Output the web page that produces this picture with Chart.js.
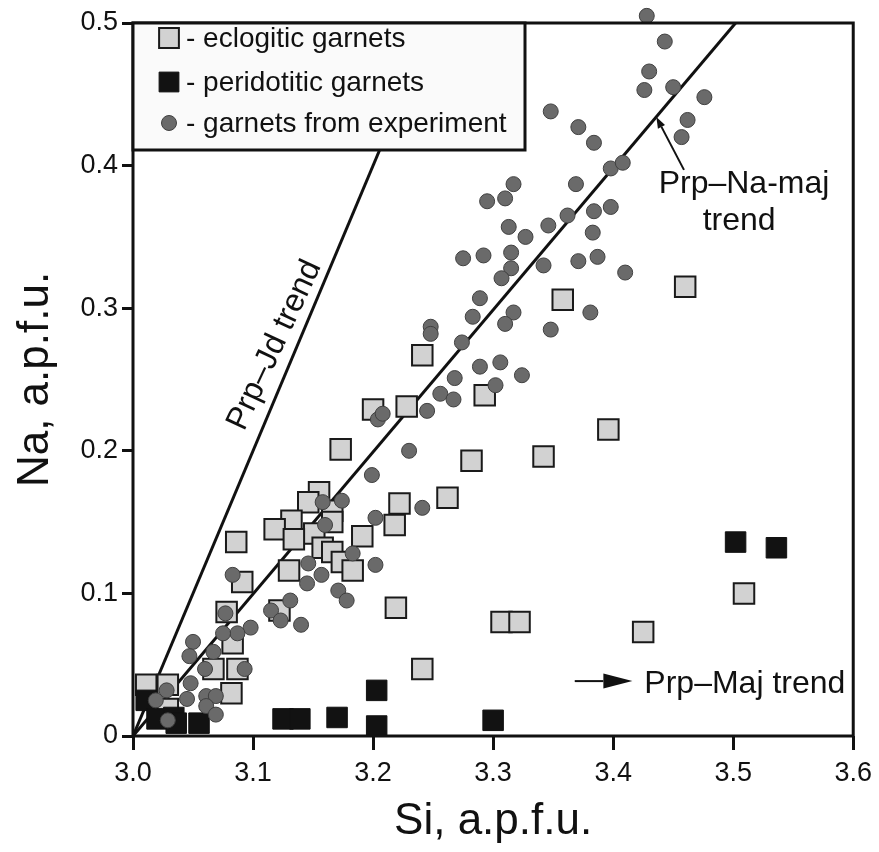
<!DOCTYPE html>
<html>
<head>
<meta charset="utf-8">
<script src="https://cdn.jsdelivr.net/npm/chart.js@4.4.0/dist/chart.umd.min.js"></script>
<style>
  body { margin: 0; background: #fff; }
  #wrap { width: 879px; height: 852px; }
</style>
</head>
<body>
<div id="wrap"><canvas id="myChart" width="879" height="852"></canvas></div>
<script>
var FONT = '"Liberation Sans", Arial, Helvetica, sans-serif';

// axis ticks
var siTicks = [3.0, 3.1, 3.2, 3.3, 3.4, 3.5, 3.6];
var naTicks = [0, 0.1, 0.2, 0.3, 0.4, 0.5];

// eclogitic garnets (light squares)
var eclSi = [3.460, 3.358, 3.241, 3.293, 3.228, 3.200, 3.396, 3.173, 3.282, 3.342,
             3.155, 3.262, 3.146, 3.222, 3.166, 3.132, 3.166, 3.118, 3.218, 3.151,
             3.134, 3.086, 3.191, 3.158, 3.166, 3.174, 3.183, 3.130, 3.091, 3.219,
             3.078, 3.122, 3.083, 3.067, 3.087, 3.082, 3.011, 3.029, 3.029, 3.241,
             3.307, 3.322, 3.425, 3.509];
var eclNa = [0.315, 0.306, 0.267, 0.239, 0.231, 0.229, 0.215, 0.201, 0.193, 0.196,
             0.171, 0.167, 0.164, 0.163, 0.158, 0.151, 0.150, 0.145, 0.148, 0.142,
             0.138, 0.136, 0.140, 0.132, 0.129, 0.122, 0.116, 0.116, 0.108, 0.090,
             0.087, 0.088, 0.065, 0.047, 0.047, 0.030, 0.036, 0.036, 0.019, 0.047,
             0.080, 0.080, 0.073, 0.100];

// peridotitic garnets (black squares)
var perSi = [3.011, 3.020, 3.034, 3.036, 3.055, 3.125, 3.139, 3.170, 3.203, 3.203, 3.300, 3.502, 3.536];
var perNa = [0.025, 0.012, 0.013, 0.009, 0.009, 0.012, 0.012, 0.013, 0.032, 0.007, 0.011, 0.136, 0.132];

// garnets from experiment (grey circles)
var expSi = [3.428, 3.443, 3.430, 3.426, 3.450, 3.476, 3.462, 3.457, 3.348, 3.371,
             3.384, 3.398, 3.408, 3.369, 3.362, 3.384, 3.398, 3.383, 3.387, 3.371,
             3.342, 3.410, 3.346, 3.317, 3.310, 3.295, 3.313, 3.327, 3.315, 3.292,
             3.275, 3.315, 3.307, 3.289, 3.283, 3.317, 3.310, 3.381, 3.348, 3.248,
             3.248, 3.274, 3.289, 3.306, 3.324, 3.268, 3.302, 3.256, 3.267, 3.245,
             3.204, 3.208, 3.230, 3.199, 3.158, 3.174, 3.160, 3.202, 3.241, 3.183,
             3.202, 3.146, 3.157, 3.083, 3.145, 3.171, 3.178, 3.131, 3.115, 3.123,
             3.140, 3.077, 3.098, 3.087, 3.075, 3.050, 3.047, 3.067, 3.060, 3.093,
             3.048, 3.028, 3.045, 3.019, 3.061, 3.069, 3.061, 3.069, 3.029];
var expNa = [0.505, 0.487, 0.466, 0.453, 0.455, 0.448, 0.432, 0.420, 0.438, 0.427,
             0.416, 0.398, 0.402, 0.387, 0.365, 0.368, 0.371, 0.353, 0.336, 0.333,
             0.330, 0.325, 0.358, 0.387, 0.377, 0.375, 0.357, 0.350, 0.339, 0.337,
             0.335, 0.328, 0.321, 0.307, 0.294, 0.297, 0.289, 0.297, 0.285, 0.287,
             0.282, 0.276, 0.259, 0.262, 0.253, 0.251, 0.246, 0.240, 0.236, 0.228,
             0.222, 0.226, 0.200, 0.183, 0.164, 0.165, 0.148, 0.153, 0.160, 0.128,
             0.120, 0.121, 0.113, 0.113, 0.107, 0.102, 0.095, 0.095, 0.088, 0.081,
             0.078, 0.086, 0.076, 0.072, 0.072, 0.066, 0.056, 0.059, 0.047, 0.047,
             0.037, 0.032, 0.026, 0.025, 0.028, 0.028, 0.021, 0.015, 0.011];

// trend lines (Si, Na end points)
var jdTrendSi = [3.0, 3.25];
var jdTrendNa = [0, 0.5];
var naMajTrendSi = [3.0, 3.502];
var naMajTrendNa = [0, 0.5];

function pairs(xs, ys) {
    var out = [];
    for (var i = 0; i < xs.length; i++) {
        out.push({x: xs[i], y: ys[i]});
    }
    return out;
}

var eclStyle = {pointStyle: 'rect', radius: 14.5, backgroundColor: '#d2d2d2', borderColor: '#1a1a1a', borderWidth: 2};
var perStyle = {pointStyle: 'rect', radius: 14.5, backgroundColor: '#121212', borderColor: '#121212', borderWidth: 1};
var expStyle = {pointStyle: 'circle', radius: 7.5, backgroundColor: '#6a6a6a', borderColor: '#404040', borderWidth: 1};

function arrow(ctx, x1, y1, x2, y2, headLen, headHalf) {
    var ang = Math.atan2(y2 - y1, x2 - x1);
    var bx = x2 - headLen * Math.cos(ang), by = y2 - headLen * Math.sin(ang);
    ctx.beginPath();
    ctx.moveTo(x1, y1);
    ctx.lineTo(bx, by);
    ctx.stroke();
    ctx.beginPath();
    ctx.moveTo(x2, y2);
    ctx.lineTo(bx + headHalf * Math.sin(ang), by - headHalf * Math.cos(ang));
    ctx.lineTo(bx - headHalf * Math.sin(ang), by + headHalf * Math.cos(ang));
    ctx.closePath();
    ctx.fill();
}

// frame, legend box and trend labels
var decorPlugin = {
    id: 'decor',
    afterDatasetsDraw: function (chart) {
        var ctx = chart.ctx, a = chart.chartArea;
        var xs = chart.scales.x, ys = chart.scales.y;
        ctx.save();

        ctx.lineWidth = 3;
        ctx.strokeStyle = '#111';
        ctx.strokeRect(a.left, a.top, a.right - a.left, a.bottom - a.top);

        // legend
        var lw = 392, lh = 127;
        ctx.fillStyle = '#fafafa';
        ctx.fillRect(a.left, a.top, lw, lh);
        ctx.strokeRect(a.left, a.top, lw, lh);
        var items = [
            [eclStyle, '- eclogitic garnets', 15],
            [perStyle, '- peridotitic garnets', 59],
            [expStyle, '- garnets from experiment', 100]
        ];
        ctx.font = '28px ' + FONT;
        ctx.textBaseline = 'middle';
        items.forEach(function (it) {
            var st = it[0];
            ctx.fillStyle = st.backgroundColor;
            ctx.strokeStyle = st.borderColor;
            ctx.lineWidth = st.borderWidth;
            Chart.helpers.drawPoint(ctx, {pointStyle: st.pointStyle, radius: st.pointStyle === 'rect' ? 14 : 7.5, borderWidth: st.borderWidth, rotation: 0}, a.left + 36, a.top + it[2]);
            ctx.fillStyle = '#111';
            ctx.fillText(it[1], a.left + 53, a.top + it[2] + 1);
        });

        ctx.fillStyle = '#111';
        ctx.strokeStyle = '#111';
        ctx.font = '32px ' + FONT;

        // Prp–Jd trend label along the line
        ctx.save();
        ctx.translate(xs.getPixelForValue(3.118), ys.getPixelForValue(0.274));
        ctx.rotate(-65 * Math.PI / 180);
        ctx.textAlign = 'center';
        ctx.fillText('Prp\u2013Jd trend', 0, 0);
        ctx.restore();

        // Prp–Na-maj trend
        ctx.textAlign = 'center';
        ctx.fillText('Prp\u2013Na-maj', xs.getPixelForValue(3.509), ys.getPixelForValue(0.387));
        ctx.fillText('trend', xs.getPixelForValue(3.505), ys.getPixelForValue(0.361));
        ctx.lineWidth = 2;
        arrow(ctx, xs.getPixelForValue(3.459), ys.getPixelForValue(0.397),
              xs.getPixelForValue(3.436), ys.getPixelForValue(0.434), 11, 4);

        // Prp–Maj trend
        ctx.textAlign = 'left';
        ctx.fillText('Prp\u2013Maj trend', xs.getPixelForValue(3.426), ys.getPixelForValue(0.036));
        arrow(ctx, xs.getPixelForValue(3.368), ys.getPixelForValue(0.0385),
              xs.getPixelForValue(3.416), ys.getPixelForValue(0.0385), 29, 7.5);

        ctx.restore();
    }
};

function lineSet(xs, ys) {
    return {
        data: pairs(xs, ys),
        showLine: true,
        borderColor: '#111',
        borderWidth: 3,
        pointRadius: 0,
        fill: false,
        order: 4
    };
}

function pointSet(label, xs, ys, st, order) {
    return {
        label: label,
        data: pairs(xs, ys),
        pointStyle: st.pointStyle,
        pointRadius: st.radius,
        pointHoverRadius: st.radius,
        backgroundColor: st.backgroundColor,
        borderColor: st.borderColor,
        borderWidth: st.borderWidth,
        clip: false,
        order: order
    };
}

var ctx = document.getElementById('myChart').getContext('2d');
var chart = new Chart(ctx, {
    type: 'scatter',
    data: {
        datasets: [
            lineSet(jdTrendSi, jdTrendNa),
            lineSet(naMajTrendSi, naMajTrendNa),
            pointSet('eclogitic garnets', eclSi, eclNa, eclStyle, 3),
            pointSet('peridotitic garnets', perSi, perNa, perStyle, 2),
            pointSet('garnets from experiment', expSi, expNa, expStyle, 1)
        ]
    },
    options: {
        responsive: false,
        animation: false,
        devicePixelRatio: 1,
        layout: {padding: {top: 23, right: 24, left: 0, bottom: 0}},
        plugins: {
            legend: {display: false},
            tooltip: {enabled: false}
        },
        scales: {
            x: {
                type: 'linear',
                min: siTicks[0],
                max: siTicks[siTicks.length - 1],
                afterBuildTicks: function (scale) {
                    scale.ticks = siTicks.map(function (v) { return {value: v}; });
                },
                afterFit: function (scale) { scale.height = 116; },
                border: {display: false},
                grid: {drawOnChartArea: false, drawTicks: true, tickLength: 14, color: '#111', lineWidth: 3},
                ticks: {
                    color: '#111',
                    padding: 7,
                    font: {family: FONT, size: 27},
                    callback: function (v) { return Number(v).toFixed(1); }
                },
                title: {
                    display: true,
                    text: 'Si, a.p.f.u.',
                    color: '#111',
                    font: {family: FONT, size: 44},
                    padding: {top: 0, bottom: 4}
                }
            },
            y: {
                type: 'linear',
                min: naTicks[0],
                max: naTicks[naTicks.length - 1],
                afterBuildTicks: function (scale) {
                    scale.ticks = naTicks.map(function (v) { return {value: v}; });
                },
                afterFit: function (scale) { scale.width = 133; },
                border: {display: false},
                grid: {drawOnChartArea: false, drawTicks: true, tickLength: 11, color: '#111', lineWidth: 3},
                ticks: {
                    color: '#111',
                    padding: 4,
                    font: {family: FONT, size: 27},
                    callback: function (v) { return v === 0 ? '0' : Number(v).toFixed(1); }
                },
                title: {
                    display: true,
                    text: 'Na, a.p.f.u.',
                    color: '#111',
                    font: {family: FONT, size: 44},
                    padding: {top: 9, bottom: 0}
                }
            }
        }
    },
    plugins: [decorPlugin]
});
</script>
</body>
</html>
